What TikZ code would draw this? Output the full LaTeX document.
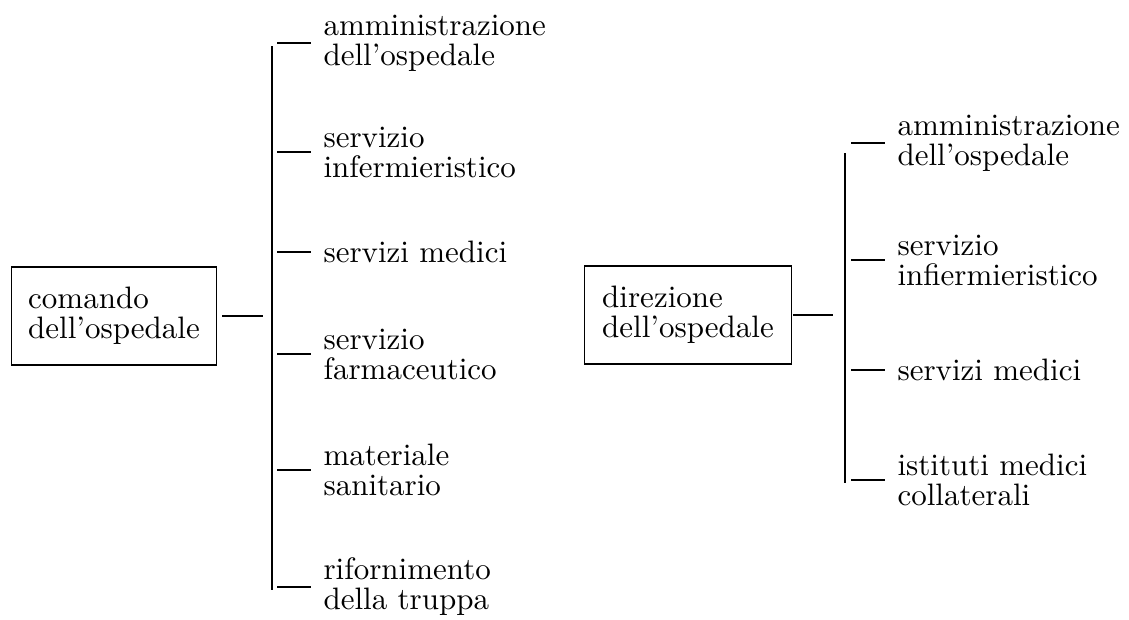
\documentclass[tikz,border=0pt]{standalone}
\usepackage{fontspec}
\setmainfont{lmroman10-regular.otf}
\usepackage{tikz}

\begin{document}
\begin{tikzpicture}[x=1pt, y=-1pt, line width=1.1pt,
    unitbox/.style={draw, rectangle, align=left, inner sep=0pt, minimum width=205pt, minimum height=98pt, font=\fontsize{31}{30}\selectfont},
    branch/.style={anchor=west, align=left, inner sep=0pt, font=\fontsize{31}{30}\selectfont},
    tick/.style={shorten >=12pt}]
    \useasboundingbox (0,0) rectangle (1129,619);

    % Left tree: comando
    \node [unitbox] (comando) at (114,316) {comando\\dell'ospedale};
    \coordinate (lhub) at (272,316);
    \coordinate (ltop) at (272,46);
    \coordinate (lbot) at (272,590);
    \draw [shorten <=5pt, shorten >=9pt] (comando) -- (lhub);
    \draw (ltop) -- (lbot);

    \node [branch] (lamm) at (323,43) {amministrazione\\dell'ospedale};
    \node [branch] (linf) at (323,152) {servizio\\infermieristico};
    \node [branch] (lmed) at (323,252) {servizi medici};
    \node [branch] (lfar) at (323,354) {servizio\\farmaceutico};
    \node [branch] (lmat) at (323,470) {materiale\\sanitario};
    \node [branch] (lrif) at (323,587) {rifornimento\\della truppa};

    \coordinate (ta1) at (277,43);
    \coordinate (ta2) at (277,152);
    \coordinate (ta3) at (277,252);
    \coordinate (ta4) at (277,354);
    \coordinate (ta5) at (277,470);
    \coordinate (ta6) at (277,587);
    \draw [tick] (ta1) -- (lamm.west);
    \draw [tick] (ta2) -- (linf.west);
    \draw [tick] (ta3) -- (lmed.west);
    \draw [tick] (ta4) -- (lfar.west);
    \draw [tick] (ta5) -- (lmat.west);
    \draw [tick] (ta6) -- (lrif.west);

    % Right tree: direzione
    \node [unitbox, minimum width=207pt] (direzione) at (688,315) {direzione\\dell'ospedale};
    \coordinate (rhub) at (845,315);
    \coordinate (rtop) at (845,153);
    \coordinate (rbot) at (845,483);
    \draw [shorten <=1pt, shorten >=12pt] (direzione) -- (rhub);
    \draw (rtop) -- (rbot);

    \node [branch] (ramm) at (897,143) {amministrazione\\dell'ospedale};
    \node [branch] (rinf) at (897,260) {servizio\\infiermieristico};
    \node [branch] (rmed) at (897,370) {servizi medici};
    \node [branch] (rist) at (897,480) {istituti medici\\collaterali};

    \coordinate (tb1) at (851,143);
    \coordinate (tb2) at (851,260);
    \coordinate (tb3) at (851,370);
    \coordinate (tb4) at (851,480);
    \draw [tick] (tb1) -- (ramm.west);
    \draw [tick] (tb2) -- (rinf.west);
    \draw [tick] (tb3) -- (rmed.west);
    \draw [tick] (tb4) -- (rist.west);
\end{tikzpicture}
\end{document}
